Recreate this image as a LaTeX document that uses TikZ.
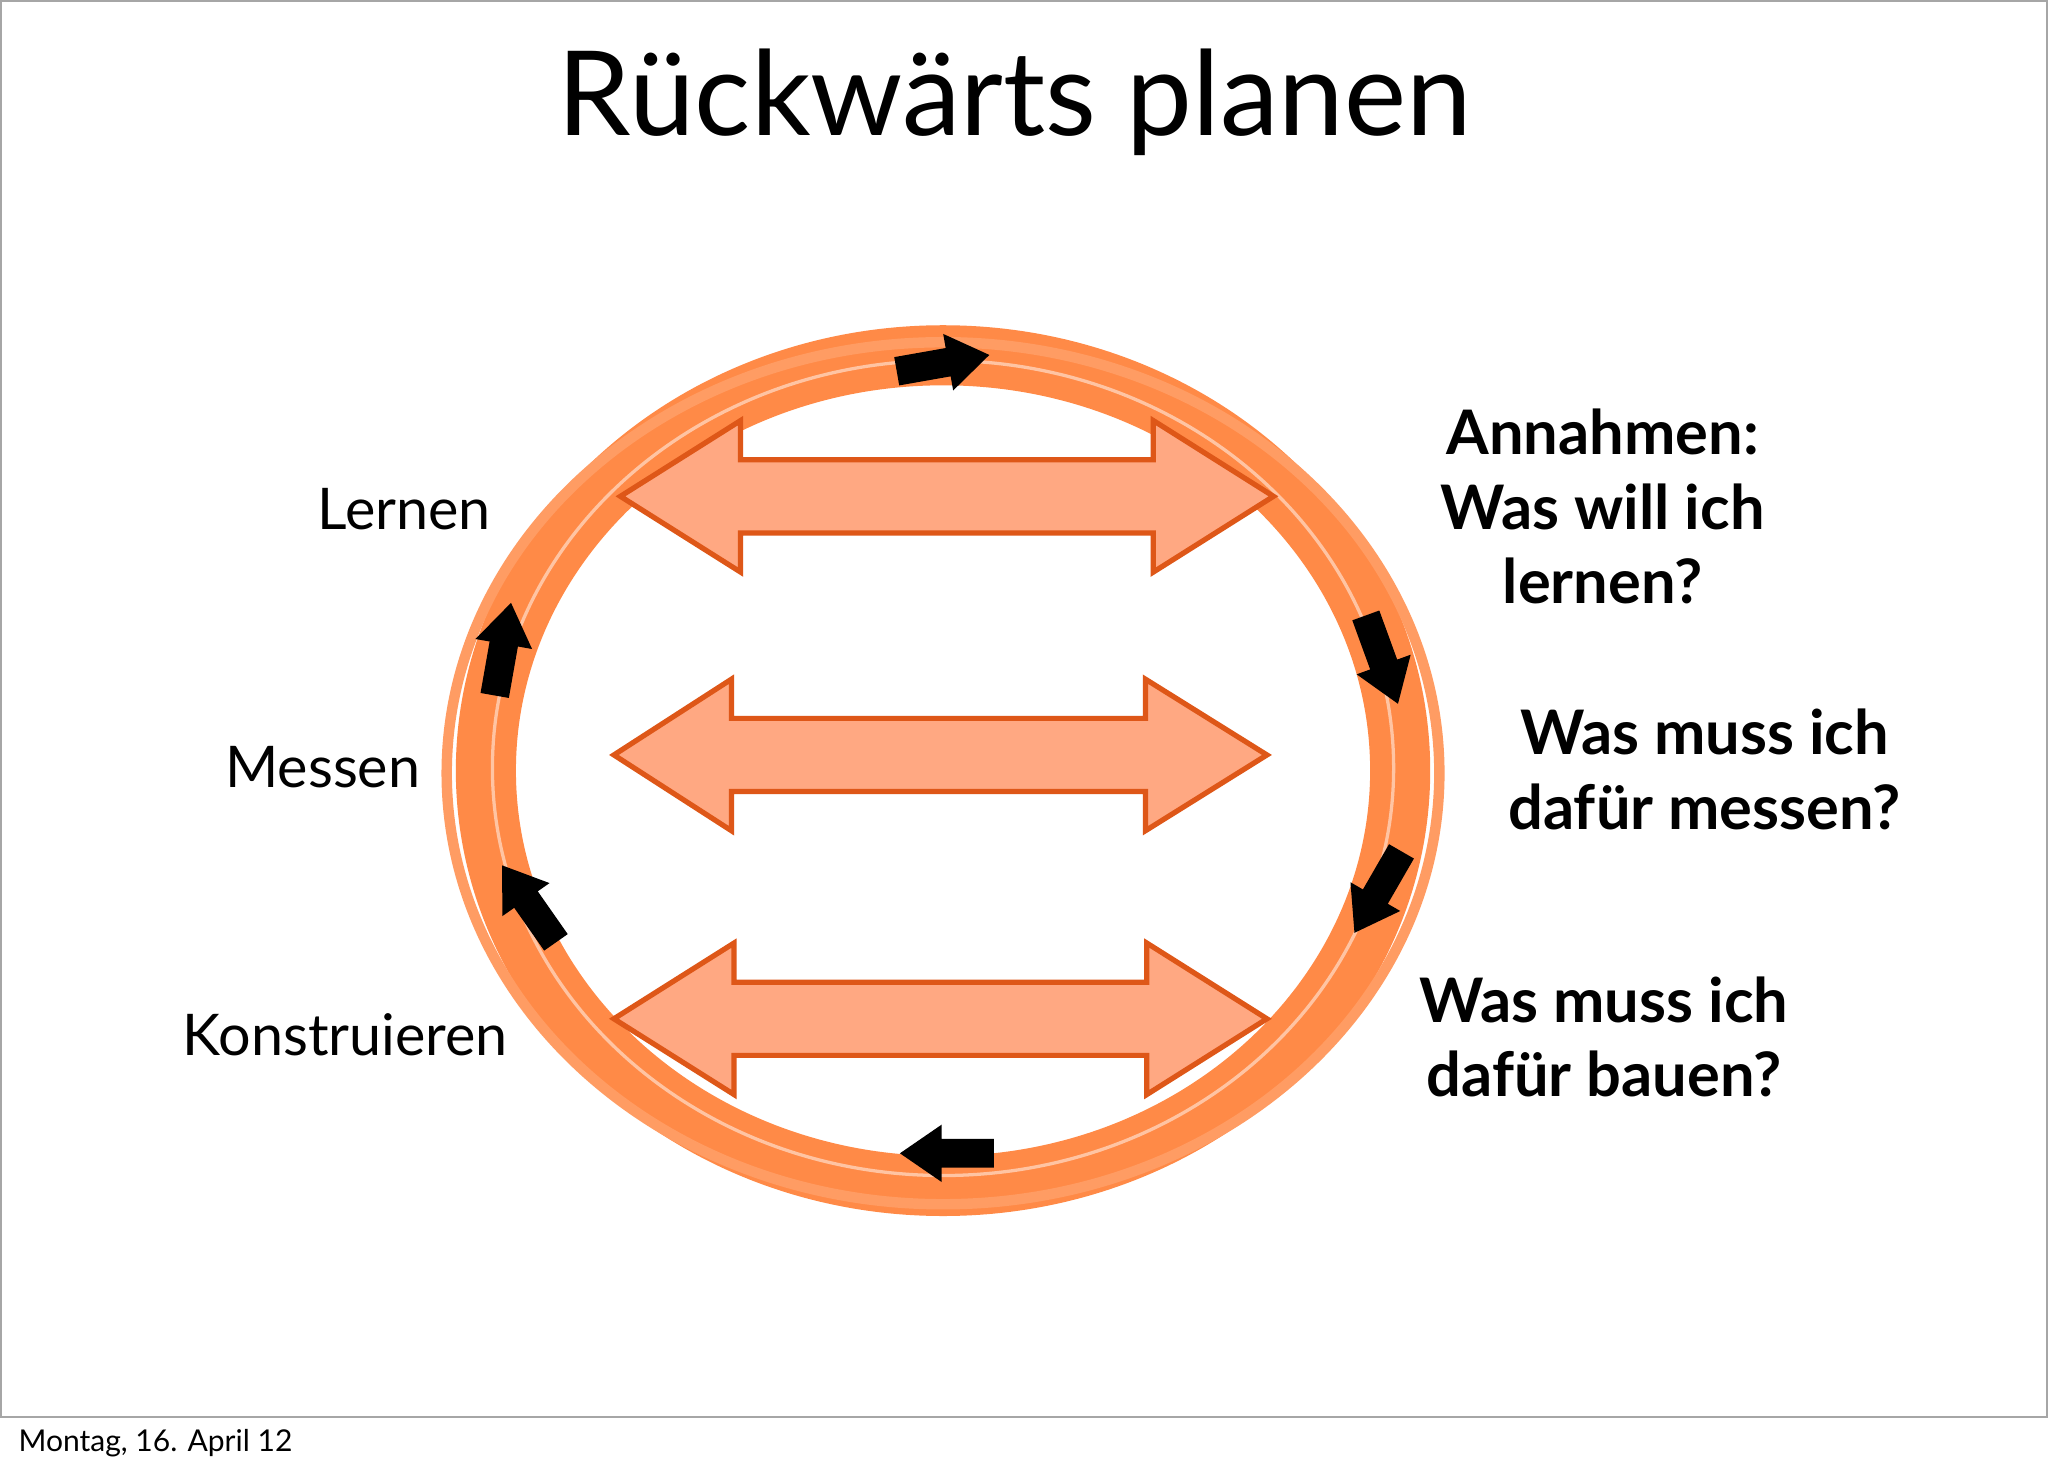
\documentclass[tikz,border=0pt]{standalone}
\usepackage{fontspec}
\setmainfont{Lato}
\definecolor{ring}{HTML}{FF8A47}
\definecolor{afill}{HTML}{FFA882}
\definecolor{aline}{HTML}{DE5718}
\tikzset{
 dbl/.style={draw=aline,line width=4pt,fill=afill,line join=miter},
 blkarrow/.style={fill=black},
 lab/.style={font=\fontsize{44}{50}\selectfont,inner sep=0pt},
 blab/.style={font=\fontsize{47}{57}\selectfont\bfseries,align=center,inner sep=0pt}
}
\begin{document}
\begin{tikzpicture}[x=1pt,y=-1pt]
\useasboundingbox (0,0) rectangle (1568,1125);
\fill[white] (0,0) rectangle (1568,1125);
\draw[gray!70,line width=1.5pt] (1,1) rectangle (1567,1085);
\node[font=\fontsize{90}{100}\selectfont,anchor=base] (title) at (777,104) {Rückwärts planen};
\node[anchor=base west,font=\fontsize{23}{26}\selectfont,inner sep=0pt] (date) at (14,1111) {Montag, 16. April 12};
% ring
\draw[ring,line width=46pt] (722,590) ellipse[x radius=350,y radius=318];
\draw[ring!85,line width=8pt] (722,592) ellipse[x radius=380,y radius=330];
\draw[white,line width=2.5pt,opacity=.5] (722,588) ellipse[x radius=345,y radius=312];
% double arrows
\foreach \yy/\a/\b/\l/\r in {380/567/883/475/975, 578/560/877/470/970, 780/562/878/470/970}{
 \draw[dbl] (\l,\yy) -- (\a,\yy-58) -- (\a,\yy-28) -- (\b,\yy-28) -- (\b,\yy-58) -- (\r,\yy)
  -- (\b,\yy+58) -- (\b,\yy+28) -- (\a,\yy+28) -- (\a,\yy+58) -- cycle;
}
% black arrows (pointing along +x before rotation)
\foreach \px/\py/\ang in {722/278/10, 1058/505/-70, 1055/683/-120, 725/883/180, 405/692/125, 385/497/80}{
 \begin{scope}[shift={(\px,\py)},rotate=\ang]
  \fill[blkarrow] (-36,-11) -- (4,-11) -- (4,-22) -- (36,0) -- (4,22) -- (4,11) -- (-36,11) -- cycle;
 \end{scope}
}
% labels
\node[lab,anchor=east] (l1) at (376,390) {Lernen};
\node[lab,anchor=east] (l2) at (322,587) {Messen};
\node[lab,anchor=east] (l3) at (389,792) {Konstruieren};
\node[blab] (r1) at (1227,388) {Annahmen:\\Was will ich\\lernen?};
\node[blab] (r2) at (1305,589) {Was muss ich\\dafür messen?};
\node[blab] (r3) at (1228,794) {Was muss ich\\dafür bauen?};
\end{tikzpicture}
\end{document}
